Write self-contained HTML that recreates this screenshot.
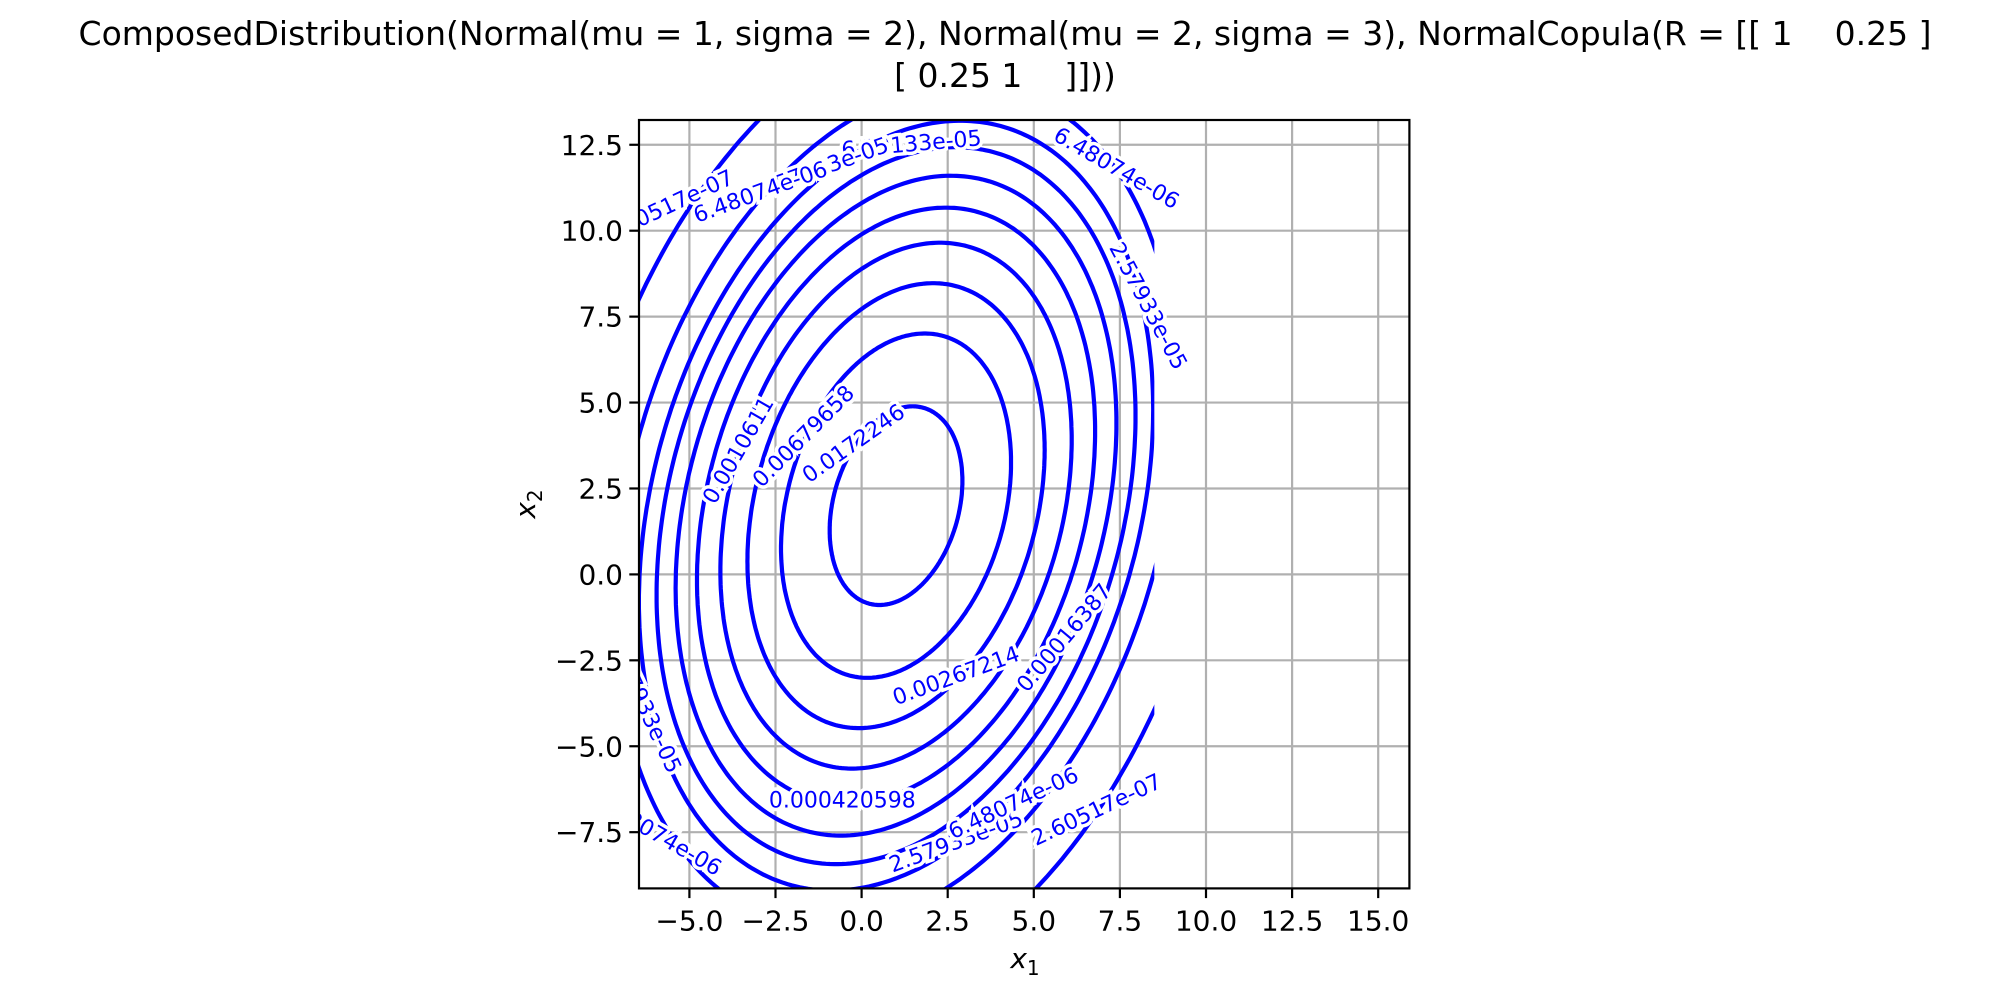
<!DOCTYPE html>
<html><head><meta charset="utf-8"><style>
html,body{margin:0;padding:0;background:#fff;}
svg{display:block;font-family:"DejaVu Sans","Liberation Sans",sans-serif;}
</style></head><body>
<svg id="chart" width="2000" height="1000" viewBox="0 0 2000 1000">
<rect width="2000" height="1000" fill="#fff"/>
<text x="1005" y="45" font-size="33" text-anchor="middle" xml:space="preserve" style="white-space:pre">ComposedDistribution(Normal(mu = 1, sigma = 2), Normal(mu = 2, sigma = 3), NormalCopula(R = [[ 1    0.25 ]</text>
<text x="1005" y="87" font-size="33" text-anchor="middle" xml:space="preserve" style="white-space:pre">[ 0.25 1    ]]))</text>
<defs><clipPath id="axclip"><rect x="639" y="120" width="770.4" height="768.4"/></clipPath></defs>
<g id="grid"></g>
<g id="contours" clip-path="url(#axclip)"></g>
<g id="labels" clip-path="url(#axclip)"></g>
<rect x="639" y="120" width="770.4" height="768.4" fill="none" stroke="#000" stroke-width="2.2"/>
<g id="ticks"></g>
<text x="1025" y="968" font-size="28" font-style="italic" text-anchor="middle">x<tspan font-size="20" font-style="normal" dy="7">1</tspan></text>
<text transform="translate(535,504) rotate(-90)" font-size="28" font-style="italic" text-anchor="middle">x<tspan font-size="20" font-style="normal" dy="7">2</tspan></text>
</svg>
<script>
const xTicks=[-5,-2.5,0,2.5,5,7.5,10,12.5,15];
const yTicks=[-7.5,-5,-2.5,0,2.5,5,7.5,10,12.5];
const levels=[0.0172246,0.00679658,0.00267214,0.0010611,0.000420598,0.00016387,6.50133e-05,2.57933e-05,6.48074e-06,2.60517e-07];
const mu=[1,2], sigma=[2,3], rho=0.25;
const gridXMin=-7, gridXMax=8.5;
const labelTexts=["0.0172246","0.00679658","0.0010611","0.00267214","0.00016387","0.000420598","2.57933e-05","6.48074e-06","2.60517e-07","6.48074e-06","2.57933e-05","6.50133e-05","2.57933e-05","6.48074e-06","2.60517e-07","2.57933e-05","6.48074e-06"];
const labelX=[-0.22,-1.67,-3.56,2.75,5.9,-0.56,2.75,4.42,6.83,7.39,8.3,1.45,-1.15,-2.93,-5.6,-6.3,-5.9];
const labelY=[3.79,4.0,3.6,-2.97,-1.86,-6.6,-7.8,-6.68,-6.87,11.8,7.8,12.5,11.8,11.1,10.7,-3.9,-7.6];
const labelAngle=[-35,-45,-60,-20,-50,0,-20,-25,-25,30,62,-5,-20,-20,-25,65,30];

const NS="http://www.w3.org/2000/svg";
const X0=861.6, Y0=574.4, KX=34.44, KY=34.37;
const sx=v=>X0+v*KX, sy=v=>Y0-v*KY;
const L=639,R=1409.4,T=120,B=888.4;
function el(tag,attrs,parent){const e=document.createElementNS(NS,tag);for(const k in attrs)e.setAttribute(k,attrs[k]);parent.appendChild(e);return e;}
const grid=document.getElementById('grid'),ticks=document.getElementById('ticks');
xTicks.forEach(t=>{
  const gl=el('line',{x1:sx(t),x2:sx(t),y1:T,y2:B,stroke:'#b0b0b0','stroke-width':2.2},grid);
  
  
  const tk=el('line',{x1:sx(t),x2:sx(t),y1:B,y2:B+9.7,stroke:'#000','stroke-width':2.2},ticks);
  
  
  const tx=el('text',{x:sx(t),y:B+42,'font-size':28,'text-anchor':'middle'},ticks);
  tx.textContent=t.toFixed(1).replace('-','\u2212');
  
  
});
yTicks.forEach(t=>{
  const gl=el('line',{x1:L,x2:R,y1:sy(t),y2:sy(t),stroke:'#b0b0b0','stroke-width':2.2},grid);
  
  
  const tk=el('line',{x1:L-9.7,x2:L,y1:sy(t),y2:sy(t),stroke:'#000','stroke-width':2.2},ticks);
  
  
  const tx=el('text',{x:L-16,y:sy(t)+10,'font-size':28,'text-anchor':'end'},ticks);
  tx.textContent=t.toFixed(1).replace('-','\u2212');
  
  
});
const norm=2*Math.PI*sigma[0]*sigma[1]*Math.sqrt(1-rho*rho);
const cont=document.getElementById('contours');
const cp=el('clipPath',{id:'gridclip'},document.querySelector('defs'));
el('rect',{x:sx(gridXMin),y:0,width:sx(gridXMax)-sx(gridXMin),height:1000},cp);
const inner=el('g',{'clip-path':'url(#gridclip)'},cont);
levels.forEach(lv=>{
  const d2=-2*Math.log(lv*norm);
  if(!(d2>0))return;
  const d=Math.sqrt(d2);
  let pts=[];
  for(let i=0;i<=360;i++){
    const a=i*Math.PI/180;
    const u=d*Math.cos(a), v=d*Math.sin(a);
    const z1=u, z2=rho*u+Math.sqrt(1-rho*rho)*v;
    const x=mu[0]+sigma[0]*z1, y=mu[1]+sigma[1]*z2;
    pts.push(sx(x).toFixed(1)+','+sy(y).toFixed(1));
  }
  const p=el('polyline',{points:pts.join(' '),fill:'none',stroke:'#0000ff','stroke-width':4.2},inner);
  
  
});
const lab=document.getElementById('labels');
labelTexts.forEach((s,i)=>{
  const t=el('text',{x:0,y:0,'font-size':22,'text-anchor':'middle','dominant-baseline':'central',fill:'#0000ff',stroke:'#fff','stroke-width':7,'paint-order':'stroke',transform:`translate(${sx(labelX[i])},${sy(labelY[i])}) rotate(${labelAngle[i]})`},lab);
  t.textContent=s;
  
  
});
</script>
</body></html>
